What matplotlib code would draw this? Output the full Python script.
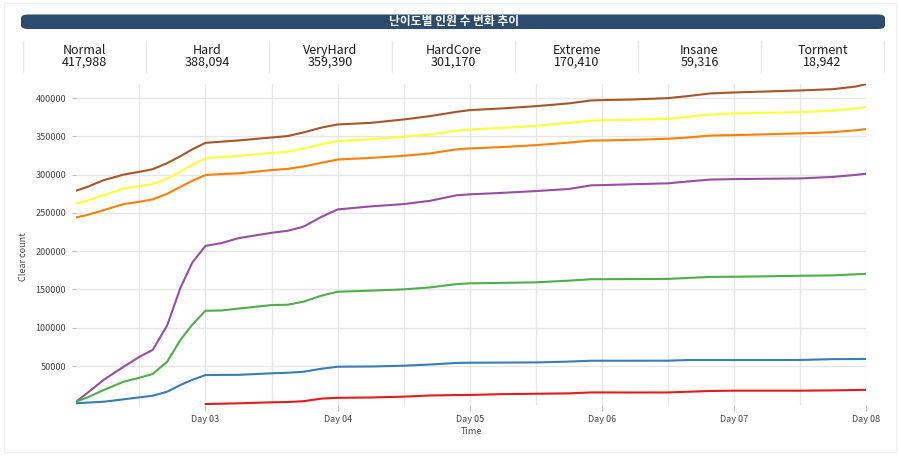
import matplotlib
matplotlib.use("Agg")
import matplotlib.pyplot as plt
from matplotlib.patches import FancyBboxPatch, Rectangle
from matplotlib.ticker import FixedLocator, NullFormatter
import numpy as np

plt.rcParams['font.family'] = ['Noto Sans CJK KR', 'DejaVu Sans']

title = "난이도별 인원 수 변화 추이"

levels = ["Normal", "Hard", "VeryHard", "HardCore", "Extreme", "Insane", "Torment"]
totals = [417988, 388094, 359390, 301170, 170410, 59316, 18942]
colors = ["#a65628", "#ffff33", "#ff7f00", "#984ea3", "#4daf4a", "#377eb8", "#e41a1c"]

# time in days (Day 02 = 2.0)
days = [2.02, 2.10, 2.23, 2.38, 2.50, 2.60, 2.71, 2.81, 2.90, 3.00, 3.12, 3.25,
        3.50, 3.62, 3.74, 3.88, 4.00, 4.25, 4.50, 4.70, 4.90, 5.00, 5.25, 5.50,
        5.75, 5.92, 6.00, 6.25, 6.50, 6.65, 6.82, 7.00, 7.25, 7.50, 7.75, 7.92, 8.00]

normal = [279000, 283500, 292800, 300000, 303700, 307000, 315000, 324000, 333000,
          341500, 343000, 344600, 348500, 350300, 355000, 361500, 365500, 367600,
          372000, 376400, 382000, 384200, 386500, 389400, 393000, 396900, 397300,
          398200, 399900, 402500, 406000, 407300, 408600, 409900, 411600, 415000, 417988]
hard = [262400, 265800, 273200, 282000, 285000, 287600, 295000, 304000, 313000,
        321200, 323000, 324200, 328500, 330000, 334000, 340000, 343700, 346300,
        349400, 352500, 357500, 359000, 361000, 363700, 367600, 370500, 371000,
        371800, 372800, 375500, 378500, 379900, 380800, 381600, 383500, 386500, 388094]
veryhard = [244100, 247100, 253700, 261500, 264500, 267600, 275000, 284000, 292000,
            299400, 300800, 301600, 305900, 307500, 310500, 315500, 319700, 321800,
            324600, 327700, 333000, 334200, 336000, 338500, 341800, 344500, 344600,
            345500, 346800, 348500, 351000, 351600, 352700, 353800, 355500, 357800, 359390]
hardcore = [3400, 14000, 32000, 49000, 62000, 71000, 103000, 152000, 185000,
            207000, 210500, 217000, 224000, 226600, 231900, 245000, 254500, 258500,
            261500, 265800, 273000, 274200, 276200, 278500, 281200, 286000, 286300,
            287500, 288600, 291000, 293500, 294100, 294600, 295000, 297000, 299600, 301170]
extreme = [3400, 8500, 18700, 29500, 34700, 39600, 55600, 84000, 104000,
           122200, 122500, 125000, 129600, 130000, 134000, 142000, 147000, 148500,
           150100, 152700, 157000, 158000, 158600, 159300, 161500, 163400, 163400,
           163600, 163800, 165000, 166400, 166600, 167200, 167900, 168400, 169800, 170410]
insane = [1300, 2200, 3400, 6500, 9100, 11200, 16400, 25200, 32000,
          38200, 38400, 38500, 40500, 41200, 42500, 46500, 49100, 49400,
          50400, 52000, 54000, 54300, 54500, 54700, 55800, 56900, 56900,
          56900, 57000, 57800, 57800, 57800, 57800, 57900, 59000, 59100, 59316]
torment = [np.nan] * 9 + [
          400, 800, 1300, 2600, 3000, 4000, 7500, 8500, 8900,
          10000, 11500, 12100, 12200, 13300, 13800, 14300, 15500, 15500,
          15400, 15500, 16400, 17400, 17800, 17800, 17800, 18200, 18700, 18942]

series = [normal, hard, veryhard, hardcore, extreme, insane, torment]

fig = plt.figure(figsize=(9, 4.57), dpi=100)
W, H = 900, 457

# outer card border
fig.patches.append(Rectangle((4 / W, 1 - 452 / H), 892 / W, 449 / H, transform=fig.transFigure,
                             fill=False, ec="#efefef", lw=0.8))

# title bar
bar = FancyBboxPatch((21 / W, 1 - 29 / H), 864 / W, 14.5 / H,
                     boxstyle="round,pad=0,rounding_size=0.008",
                     transform=fig.transFigure, fc="#2d4a6f", ec="none")
fig.patches.append(bar)
fig.text(454 / W, 1 - 21.5 / H, title, color="white", fontsize=8.5, fontweight="bold",
         ha="center", va="center")

# summary cards
seps = [23, 146, 269, 392, 515, 638, 761, 884]
for x in seps:
    fig.add_artist(plt.Line2D([x / W, x / W], [1 - 41 / H, 1 - 72 / H],
                              transform=fig.transFigure, color="#e6e6e6", lw=1))
for i, (name, tot) in enumerate(zip(levels, totals)):
    cx = (seps[i] + seps[i + 1]) / 2
    fig.text(cx / W, 1 - 50.5 / H, name, fontsize=9, color="#1a1a1a",
             ha="center", va="center", fontweight="medium")
    fig.text(cx / W, 1 - 62.5 / H, f"{tot:,}", fontsize=9, color="#1a1a1a",
             ha="center", va="center", fontweight="medium")

# main chart
ax = fig.add_axes([76 / W, 1 - 405 / H, 790 / W, 321.5 / H])
for vals, c in zip(series, colors):
    ax.plot(days, vals, color=c, lw=1.5, solid_capstyle="round")

ax.set_xlim(days[0], 8.0)
ax.set_ylim(-900, 419000)
for s in ax.spines.values():
    s.set_visible(False)

ax.yaxis.set_major_locator(FixedLocator(np.arange(50000, 400001, 50000)))
ax.xaxis.set_major_locator(FixedLocator([3, 4, 5, 6, 7, 8]))
ax.xaxis.set_minor_locator(FixedLocator(np.arange(2.5, 8.01, 0.5)))
ax.xaxis.set_minor_formatter(NullFormatter())
ax.set_xticklabels(["Day 03", "Day 04", "Day 05", "Day 06", "Day 07", "Day 08"])
ax.grid(True, which="major", axis="y", color="#e6e6e6", lw=1)
ax.grid(True, which="both", axis="x", color="#e6e6e6", lw=1)
ax.set_axisbelow(True)
ax.tick_params(axis="x", which="major", length=4, color="#bbbbbb", labelsize=6.5,
               labelcolor="#444444", pad=3)
ax.tick_params(axis="x", which="minor", length=0)
ax.tick_params(axis="y", length=3, color="#bbbbbb", labelsize=6.5, labelcolor="#444444", pad=4)
ax.set_xlabel("Time", fontsize=6.5, color="#444444", labelpad=2)
ax.set_ylabel("Clear count", fontsize=6.5, color="#444444")
ax.yaxis.set_label_coords(-0.061, 0.46)

plt.savefig("out.png", dpi=100)
